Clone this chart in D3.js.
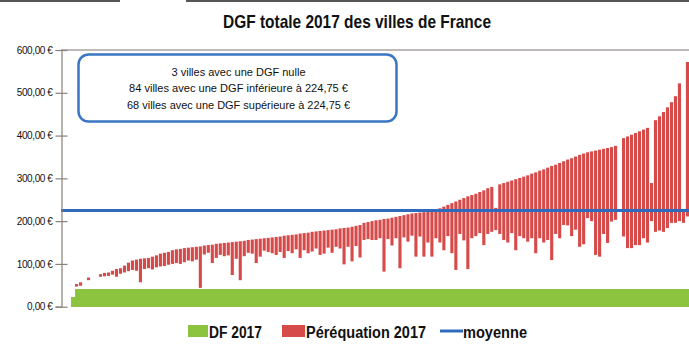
<!DOCTYPE html>
<html lang="fr">
<head>
<meta charset="utf-8">
<script src="https://cdn.jsdelivr.net/npm/d3@7"></script>
<style>
  html, body { margin: 0; padding: 0; background: #ffffff; }
  svg { display: block; }
  text { font-family: "Liberation Sans Narrow", "Liberation Sans", Arial, sans-serif; fill: #111; }
</style>
</head>
<body>
<svg id="chart" width="689" height="344"></svg>
<script>
// DGF 2017 per city (€ / inhabitant), cities ordered left to right
const dgfTotale = [
  0,53,57,0,68,0,0,76,79,80,
  84,88,90,96,103,108,110,112,113,114,
  117,120,124,126,128,132,134,135,137,138,
  139,140,141,143,144,145,147,148,149,150,
  151,152,153,154,156,157,158,159,160,161,
  162,163,164,166,167,168,169,171,172,173,
  175,176,177,178,179,180,181,183,184,185,
  187,189,191,196,198,200,202,203,205,206,
  208,210,212,214,216,218,219,220,221,222,
  223,226,230,234,238,242,246,250,254,258,
  261,264,268,272,277,280,231,286,289,292,
  295,298,301,304,307,311,314,318,321,325,
  329,332,336,340,344,347,351,355,358,361,
  363,365,367,369,371,373,376,0,394,398,
  402,406,410,414,418,289,436,445,455,466,
  478,492,522,222,572
];
// lower end of the péréquation segment for each city
const perequationBas = [
  0,47,49,0,62,0,0,70,71,72,
  75,70,77,80,83,86,84,57,88,90,
  87,92,94,95,98,100,102,100,104,108,
  106,110,44,122,126,102,114,121,118,120,
  74,112,62,118,126,124,102,117,131,128,
  125,121,128,114,130,125,134,114,132,125,
  129,136,121,124,138,126,140,136,99,140,
  106,142,115,156,158,156,156,160,82,158,
  143,160,90,162,152,166,117,164,117,150,
  117,160,150,132,165,125,86,170,155,88,
  160,165,172,144,170,175,179,170,156,150,
  172,132,165,160,152,160,125,160,150,156,
  109,170,160,191,190,165,180,140,146,207,
  200,121,117,170,149,199,203,0,164,137,
  137,144,144,160,150,200,175,178,175,184,
  196,196,200,196,211
];
// DF 2017 band
const df2017 = [22].concat(new Array(154).fill(41));
const moyenne = 224.75;
const yTicks = [0, 100, 200, 300, 400, 500, 600];
const villes = d3.range(dgfTotale.length);

const titre = "DGF totale 2017 des villes de France";
const encadre = [
  "3 villes avec une DGF nulle",
  "84 villes avec une DGF inférieure à 224,75 €",
  "68 villes avec une DGF supérieure à 224,75 €"
];
const legende = ["DF 2017", "Péréquation 2017", "moyenne"];

const colors = { df: "#8cc43f", per: "#d64a4a", moy: "#2f6bbd", axis: "#8a807b" };

const svg = d3.select("#chart");

// page rule at the very top
svg.append("line").attr("x1", 0).attr("x2", 120).attr("y1", 1).attr("y2", 1)
  .attr("stroke", "#555").attr("stroke-width", 2);
svg.append("line").attr("x1", 186).attr("x2", 689).attr("y1", 1).attr("y2", 1)
  .attr("stroke", "#555").attr("stroke-width", 2);

const x = d3.scaleBand().domain(villes).range([71, 689]).paddingInner(0.22).paddingOuter(0);
const y = d3.scaleLinear().domain([0, 600]).range([306.7, 50]);

const fr = d3.formatLocale({ decimal: ",", thousands: " ", grouping: [3], currency: ["", " €"] });
const fmt = fr.format("$.2f");

// plot frame top line
svg.append("line").attr("x1", 61).attr("x2", 689).attr("y1", y(600)).attr("y2", y(600))
  .attr("stroke", "#7d7774").attr("stroke-width", 1.2);

// DF 2017 band (full step, no gaps)
svg.append("g").attr("shape-rendering", "crispEdges")
  .selectAll("rect").data(villes).join("rect")
  .attr("x", i => x(i) - x.step() * x.paddingInner() / 2)
  .attr("width", x.step() + 0.6)
  .attr("y", i => y(df2017[i]))
  .attr("height", i => y(0) - y(df2017[i]))
  .attr("fill", colors.df);

// Péréquation 2017 segments
svg.append("g").selectAll("rect").data(villes.filter(i => dgfTotale[i] > 0)).join("rect")
  .attr("x", i => x(i))
  .attr("width", x.bandwidth())
  .attr("y", i => y(dgfTotale[i]))
  .attr("height", i => y(perequationBas[i]) - y(dgfTotale[i]))
  .attr("fill", colors.per);

// mean line
svg.append("line").attr("x1", 61).attr("x2", 689)
  .attr("y1", y(moyenne)).attr("y2", y(moyenne))
  .attr("stroke", colors.moy).attr("stroke-width", 3);

// y axis
const gy = svg.append("g").attr("transform", "translate(61.5,0)")
  .call(d3.axisLeft(y).tickValues(yTicks).tickFormat(fmt).tickSize(6).tickPadding(3));
gy.select(".domain").attr("stroke", colors.axis).attr("stroke-width", 1.2);
gy.selectAll(".tick line").attr("x1", 6).attr("stroke", colors.axis).attr("stroke-width", 1.2);
gy.selectAll(".tick text").attr("font-size", 10).attr("letter-spacing", "-0.4px")
  .attr("fill", "#222").style("font-family", "'Liberation Sans Narrow', 'Liberation Sans', Arial, sans-serif");

// title
svg.append("text").attr("x", 357).attr("y", 28).attr("text-anchor", "middle")
  .attr("font-size", 19).attr("font-weight", "bold")
  .attr("textLength", 268).attr("lengthAdjust", "spacingAndGlyphs")
  .text(titre);

// annotation box
svg.append("rect").attr("x", 78.5).attr("y", 54.5).attr("width", 318).attr("height", 67)
  .attr("rx", 10).attr("fill", "#ffffff").attr("stroke", "#3a76c2").attr("stroke-width", 2.5);
const lens = [134, 219, 223];
const bases = [75.5, 92, 108.5];
encadre.forEach((t, k) => {
  svg.append("text").attr("x", 238.5).attr("y", bases[k]).attr("text-anchor", "middle")
    .attr("font-size", 11.5).attr("textLength", lens[k]).attr("lengthAdjust", "spacingAndGlyphs")
    .attr("fill", "#1a1a1a").text(t);
});

// legend
const lg = svg.append("g");
lg.append("rect").attr("x", 188).attr("y", 325).attr("width", 20).attr("height", 12).attr("fill", colors.df);
lg.append("text").attr("x", 209).attr("y", 338).attr("font-size", 16).attr("font-weight", "bold")
  .attr("textLength", 53).attr("lengthAdjust", "spacingAndGlyphs").text(legende[0]);
lg.append("rect").attr("x", 282).attr("y", 325).attr("width", 23).attr("height", 12).attr("fill", colors.per);
lg.append("text").attr("x", 306).attr("y", 338).attr("font-size", 16).attr("font-weight", "bold")
  .attr("textLength", 120).attr("lengthAdjust", "spacingAndGlyphs").text(legende[1]);
lg.append("line").attr("x1", 440).attr("x2", 463).attr("y1", 331).attr("y2", 331)
  .attr("stroke", colors.moy).attr("stroke-width", 3);
lg.append("text").attr("x", 463).attr("y", 338).attr("font-size", 16).attr("font-weight", "bold")
  .attr("textLength", 64).attr("lengthAdjust", "spacingAndGlyphs").text(legende[2]);
</script>
</body>
</html>
